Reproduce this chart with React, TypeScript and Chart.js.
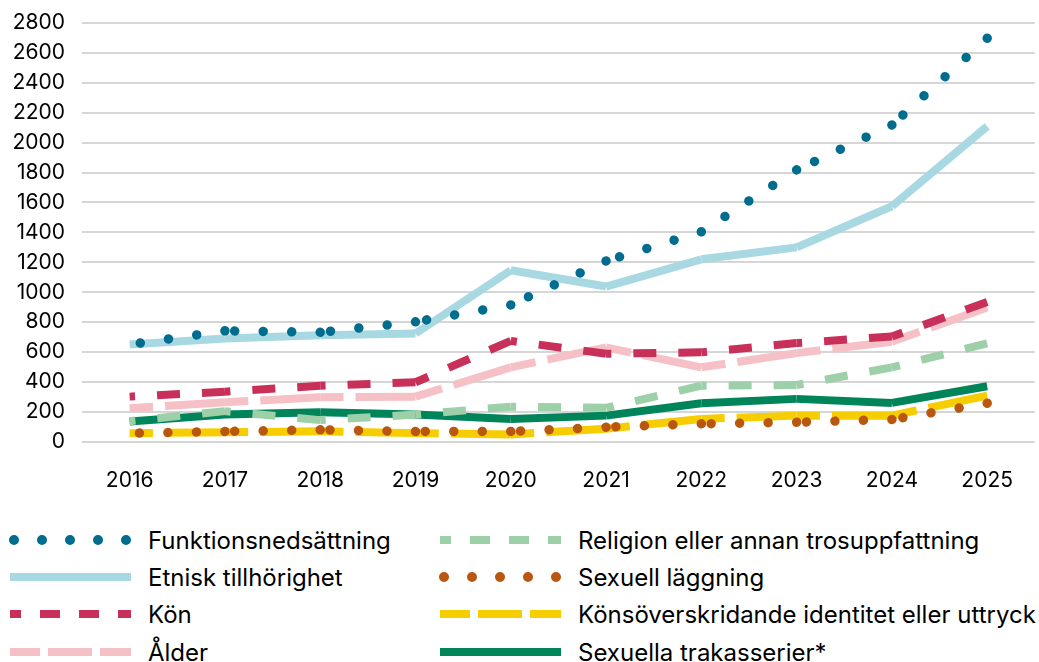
import React, { useEffect, useRef } from "react";
import { Chart, registerables } from "chart.js";

Chart.register(...registerables);

const years = ["2016", "2017", "2018", "2019", "2020", "2021", "2022", "2023", "2024", "2025"];
const yTicksMax = 2800;
const yTickStep = 200;

const funktionsnedsattning = [650, 742, 732, 802, 915, 1209, 1404, 1818, 2118, 2698];
const etniskTillhorighet = [650, 691, 713, 724, 1147, 1038, 1220, 1300, 1575, 2109];
const kon = [302, 335, 375, 398, 675, 589, 598, 660, 704, 935];
const alder = [224, 264, 298, 302, 498, 631, 498, 593, 669, 898];
const religion = [138, 205, 145, 182, 235, 227, 375, 380, 498, 658];
const sexuellLaggning = [57, 69, 80, 69, 69, 98, 120, 131, 149, 258];
const konsoverskridande = [58, 64, 70, 58, 49, 87, 153, 175, 175, 309];
const sexuellaTrakasserier = [135, 182, 198, 182, 153, 175, 258, 287, 260, 371];

const labels = [
  "Funktionsnedsättning",
  "Etnisk tillhörighet",
  "Kön",
  "Ålder",
  "Religion eller annan trosuppfattning",
  "Sexuell läggning",
  "Könsöverskridande identitet eller uttryck",
  "Sexuella trakasserier*",
];

const seriesValues = [
  funktionsnedsattning,
  etniskTillhorighet,
  kon,
  alder,
  religion,
  sexuellLaggning,
  konsoverskridande,
  sexuellaTrakasserier,
];

const colors = ["#006d8f", "#a8d8e1", "#c8305a", "#f6c1c6", "#9dcfa9", "#b9560f", "#f6cd00", "#00855a"];

type Style = {
  width: number;
  dash: number[];
  cap: CanvasLineCap;
  legendWidth: number;
  legendDash: string;
  legendOffset: number;
};

const DOT: Style = { width: 9.5, dash: [0.01, 28.49], cap: "round", legendWidth: 10, legendDash: "0.01 27.99", legendOffset: 24 };
const SOLID: Style = { width: 8, dash: [], cap: "butt", legendWidth: 8, legendDash: "", legendOffset: 0 };
const SHORT: Style = { width: 8, dash: [23, 22], cap: "butt", legendWidth: 8, legendDash: "20 19", legendOffset: 9 };
const LONG: Style = { width: 8, dash: [60, 12], cap: "butt", legendWidth: 8, legendDash: "44 8", legendOffset: 14 };

const styles: Style[] = [DOT, SOLID, SHORT, LONG, SHORT, DOT, LONG, SOLID];

const FONT = "Inter, 'Noto Sans', sans-serif";

// dash pattern restarts on every segment and is anchored so that a dash ends at the segment's end point
function segmentOffset(st: Style) {
  return (c: any) => {
    const tiny = (c.p0DataIndex % 2) * 0.001;
    if (!st.dash.length) return tiny;
    const P = st.dash[0] + st.dash[1];
    const L = Math.hypot(c.p1.x - c.p0.x, c.p1.y - c.p0.y);
    const o = (((st.dash[0] - L) % P) + P) % P;
    return o + tiny;
  };
}

export default function App() {
  const canvasRef = useRef<HTMLCanvasElement | null>(null);

  useEffect(() => {
    const canvas = canvasRef.current;
    if (!canvas) return;
    const chart = new Chart(canvas, {
      type: "line",
      data: {
        labels: years,
        datasets: seriesValues.map((vals, i) => {
          const st = styles[i];
          return {
            label: labels[i],
            data: vals,
            borderColor: colors[i],
            backgroundColor: colors[i],
            borderWidth: st.width,
            borderDash: st.dash,
            borderDashOffset: 0,
            borderCapStyle: st.cap,
            borderJoinStyle: "miter",
            pointRadius: 0,
            pointHoverRadius: 0,
            tension: 0,
            fill: false,
            segment: {
              borderDashOffset: segmentOffset(st),
            },
          } as any;
        }),
      },
      options: {
        responsive: false,
        animation: false,
        devicePixelRatio: 1,
        layout: { padding: { left: 0, top: 23, right: 0, bottom: 1 } },
        plugins: { legend: { display: false }, tooltip: { enabled: false } },
        scales: {
          x: {
            offset: true,
            grid: { display: false, drawTicks: false },
            border: { display: false },
            ticks: { color: "#000", font: { family: FONT, size: 21 }, padding: 26 },
          },
          y: {
            min: 0,
            max: yTicksMax,
            afterFit: (scale: any) => {
              scale.width = 82;
              scale.paddingTop = 0;
              scale.paddingBottom = 0;
            },
            ticks: {
              stepSize: yTickStep,
              color: "#000",
              font: { family: FONT, size: 21 },
              padding: 17,
              callback: (v: any) => String(v),
            },
            grid: { color: "#d6d6d6", lineWidth: 2, drawTicks: false },
            border: { display: false },
          },
        },
      },
    });
    return () => chart.destroy();
  }, []);

  const rowY = [540, 577, 614, 652];

  return (
    <div style={{ position: "absolute", left: 0, top: 0, width: 1039, height: 662, background: "#fff", fontFamily: FONT }}>
      <canvas ref={canvasRef} width={1039} height={520} style={{ position: "absolute", left: 0, top: 0 }} />
      {labels.map((lab, i) => {
        const col = i < 4 ? 0 : 1;
        const row = i % 4;
        const x0 = col === 0 ? 10 : 440;
        const y = rowY[row];
        const st = styles[i];
        return (
          <React.Fragment key={lab}>
            <svg
              width={121}
              height={14}
              style={{ position: "absolute", left: x0, top: y - 7, overflow: "visible" }}
            >
              <line
                x1={0}
                y1={7}
                x2={121}
                y2={7}
                stroke={colors[i]}
                strokeWidth={st.legendWidth}
                strokeLinecap={st.cap}
                strokeDasharray={st.legendDash || undefined}
                strokeDashoffset={st.legendOffset}
              />
            </svg>
            <div
              style={{
                position: "absolute",
                left: x0 + 138,
                top: y - 16,
                height: 32,
                display: "flex",
                alignItems: "center",
                fontSize: 24,
                color: "#000",
                whiteSpace: "nowrap",
              }}
            >
              {lab}
            </div>
          </React.Fragment>
        );
      })}
    </div>
  );
}
